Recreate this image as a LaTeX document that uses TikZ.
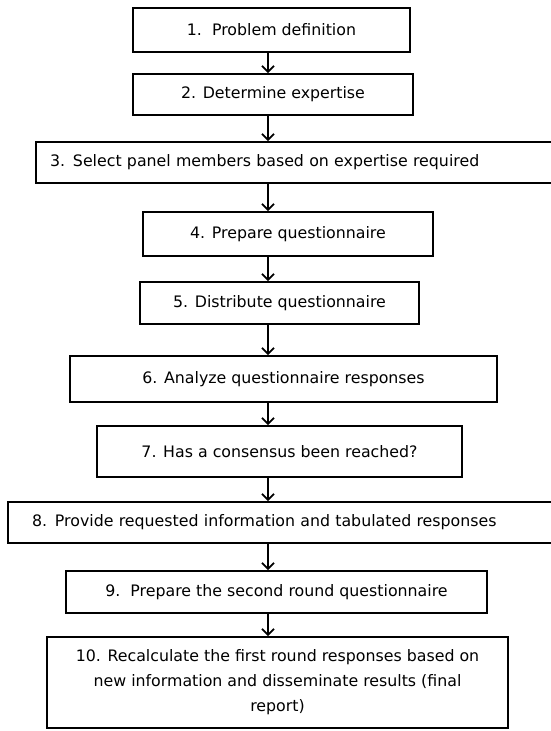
\documentclass[tikz,border=0pt]{standalone}
\usepackage{fontspec}
\setmainfont{DejaVu Sans}
\usetikzlibrary{arrows.meta}

\begin{document}
\begin{tikzpicture}[x=1pt,y=-1pt]
	\tikzstyle{every node}=[font=\fontsize{15.8}{25}\selectfont]
	\tikzstyle{stage}=[draw, line width=1.8pt, inner sep=0pt, align=center]
	\tikzstyle{flow}=[line width=1.8pt, -{Straight Barb[length=6pt,width=12pt]}]

	\useasboundingbox (0,0) rectangle (551,731);
	\clip (0,0) rectangle (551,731);

	%% boxes of the procedure
	\node [stage, minimum width=277pt, minimum height=44pt] (b1) at (271.5,30) {1.\ \ Problem definition};
	\node [stage, minimum width=280pt, minimum height=41pt] (b2) at (273,94.5) {2. Determine expertise};
	\node [stage, minimum height=41pt, inner xsep=14pt, text width=526pt, align=left] (b3) at (313,162.5) {3. Select panel members based on expertise required};
	\node [stage, minimum width=290pt, minimum height=44pt] (b4) at (288,234) {4. Prepare questionnaire};
	\node [stage, minimum width=279pt, minimum height=42pt] (b5) at (279.5,303) {5. Distribute questionnaire};
	\node [stage, minimum width=427pt, minimum height=46pt] (b6) at (283.5,379) {6. Analyze questionnaire responses};
	\node [stage, minimum width=365pt, minimum height=51pt] (b7) at (279.5,451.5) {7. Has a consensus been reached?};
	\node [stage, minimum height=41pt, inner xsep=24pt, text width=534pt, align=left] (b8) at (299,522.5) {8. Provide requested information and tabulated responses};
	\node [stage, minimum width=421pt, minimum height=42pt] (b9) at (276.5,592) {9.\ \ Prepare the second round questionnaire};
	\node [stage, minimum width=461pt, minimum height=91pt] (b10) at (277.5,682.5) {10. Recalculate the first round responses based on\\ new information and disseminate results (final\\ report)};

	%% arrows
	\coordinate (axis) at (268,0);
	\foreach \a/\b in {b1/b2,b2/b3,b3/b4,b4/b5,b5/b6,b6/b7,b7/b8,b8/b9,b9/b10}
		\draw [flow] (\a.south -| axis) -- (\b.north -| axis);

\end{tikzpicture}
\end{document}
